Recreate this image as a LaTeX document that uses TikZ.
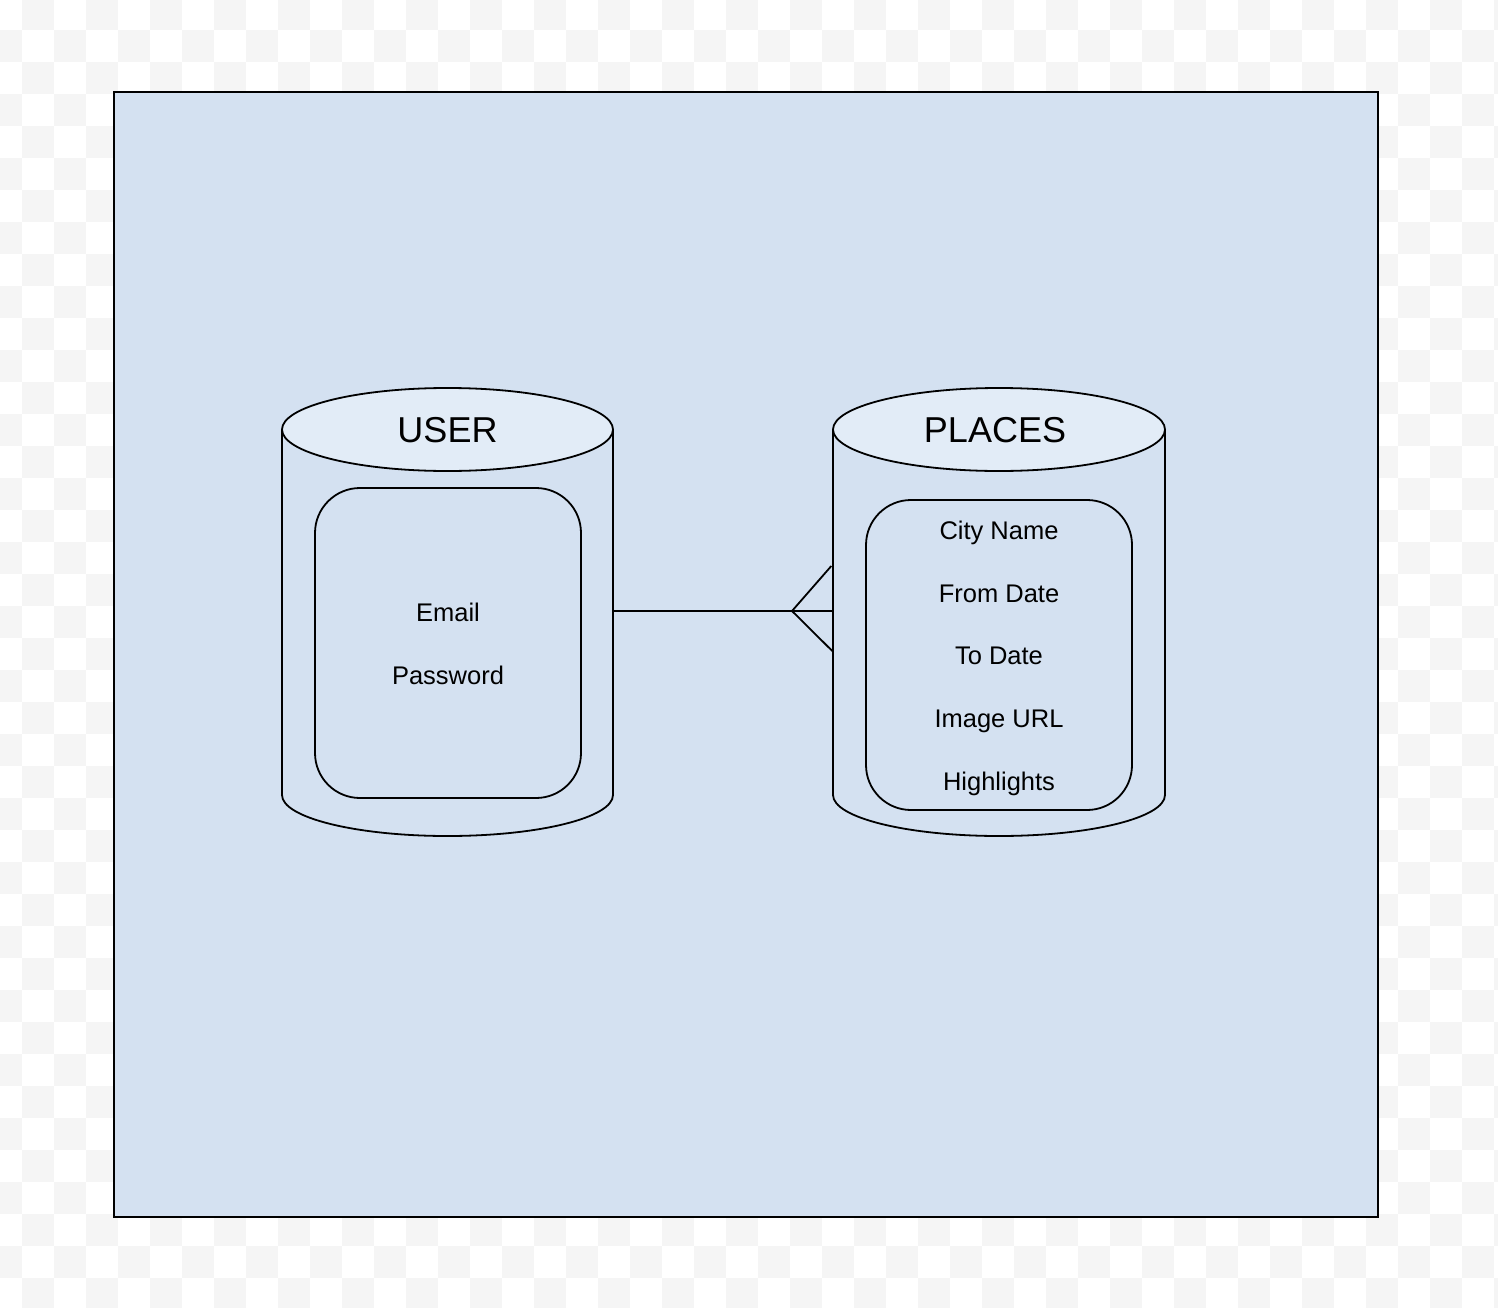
\documentclass[tikz,border=0pt]{standalone}
\usepackage{fontspec}
\setmainfont{Liberation Sans}
\usetikzlibrary{calc}
\definecolor{chk}{HTML}{F5F5F5}
\definecolor{bgblue}{HTML}{D4E1F1}
\definecolor{topblue}{HTML}{E2ECF7}
\tikzset{
  frame/.style={draw=black, fill=bgblue, line width=1.8pt, inner sep=0pt},
  dbline/.style={draw=black, line width=1.8pt},
  fieldbox/.style={draw=black, line width=1.8pt, rounded corners=45pt, minimum width=266pt, minimum height=310pt, inner sep=0pt},
  dbtitle/.style={font=\fontsize{36}{42}\selectfont, inner sep=0pt, anchor=base},
  field/.style={font=\fontsize{25.5}{30}\selectfont, inner sep=0pt, anchor=base},
  conn/.style={draw=black, line width=1.8pt},
  hidden/.style={inner sep=0pt, minimum width=331pt, minimum height=448pt}
}
\begin{document}
\begin{tikzpicture}[x=1pt,y=-1pt]
\useasboundingbox (0,0) rectangle (1498,1308);
\fill[white] (0,0) rectangle (1498,1308);
\foreach \i in {0,...,47}{
  \foreach \j in {0,...,41}{
    \pgfmathtruncatemacro\chkpar{mod(\i+\j,2)}
    \ifnum\chkpar=1
      \fill[chk] ({-10+32*\i},{-2+32*\j}) rectangle ++(32,32);
    \fi
  }
}
% frame
\node[frame, minimum width=1264pt, minimum height=1125pt] (frame) at (746,654.5) {};

% USER cylinder
\node[hidden] (userdb) at (447.5,612) {};
\path[dbline, fill=bgblue] (282,429.5) -- (282,795) arc[start angle=180, end angle=0, x radius=165.5, y radius=41] -- (613,429.5);
\path[dbline, fill=topblue] (447.5,429.5) ellipse [x radius=165.5, y radius=41.5];
\node[dbtitle] (usertitle) at (447.5,442) {USER};
\node[fieldbox] (userfields) at (448,643) {};
\node[field] (email) at (448,621) {Email};
\node[field] (password) at (448,684) {Password};

% PLACES cylinder
\node[hidden] (placesdb) at (999,612) {};
\path[dbline, fill=bgblue] (833,429.5) -- (833,795) arc[start angle=180, end angle=0, x radius=166, y radius=41] -- (1165,429.5);
\path[dbline, fill=topblue] (999,429.5) ellipse [x radius=166, y radius=41.5];
\node[dbtitle] (placestitle) at (995,442) {PLACES};
\node[fieldbox] (placesfields) at (999,655) {};
\node[field] (city) at (999,539) {City Name};
\node[field] (from) at (999,602) {From Date};
\node[field] (to) at (999,664) {To Date};
\node[field] (image) at (999,727) {Image URL};
\node[field] (highlights) at (999,790) {Highlights};

% connector with crow's foot
\coordinate (crow) at (792,611);
\draw[conn] (userdb.east |- crow) -- (placesdb.west |- crow);
\draw[conn] (crow) -- ($(placesdb.west)+(-2,-46)$);
\draw[conn] (crow) -- ($(placesdb.west)+(0,40)$);
\end{tikzpicture}
\end{document}
